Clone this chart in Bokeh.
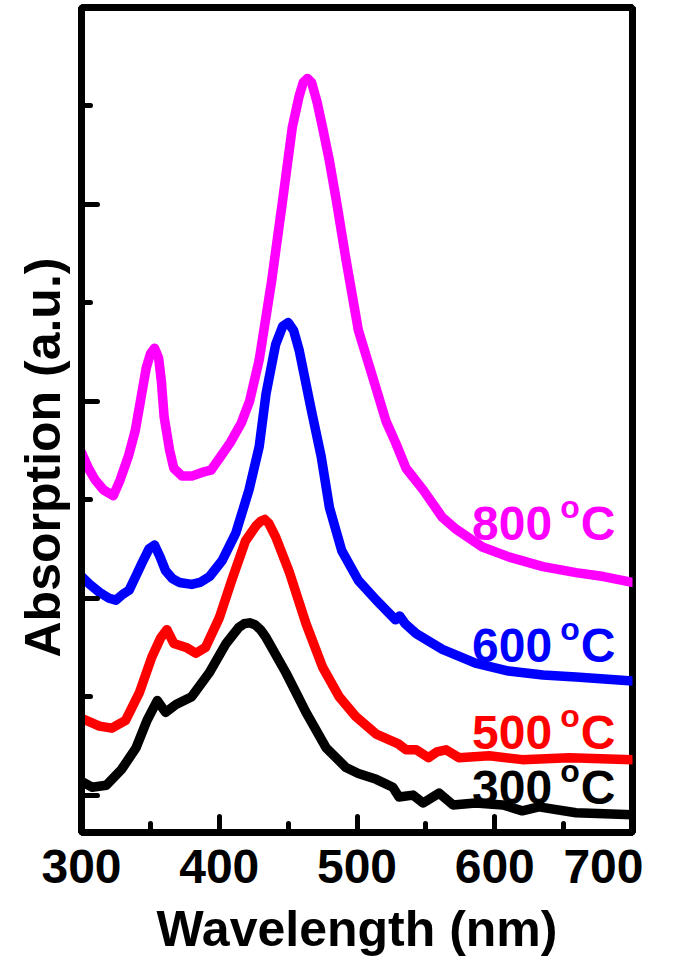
from bokeh.plotting import figure
from bokeh.models import Range1d, SingleIntervalTicker, Label, CustomJSTickFormatter, Title
from bokeh.embed import file_html
from bokeh.resources import INLINE

# ---- data (wavelength in nm, absorption in arbitrary units) ----
wl_800 = [300, 305, 310, 316, 323, 328, 334, 339, 343, 347, 350, 353, 356, 358, 360, 364, 367, 373, 380,
          388, 394, 401, 408, 416, 422, 429, 438, 446, 453, 458, 461, 464, 467, 471, 475, 480, 485, 492,
          501, 511.5, 521, 528, 535.6, 548, 562, 572, 591, 610, 635, 659, 679, 700]
ab_800 = [2.74, 2.66, 2.60, 2.55, 2.52, 2.60, 2.72, 2.85, 3.01, 3.17, 3.24, 3.27, 3.22, 3.10, 2.92, 2.75,
          2.66, 2.62, 2.62, 2.64, 2.65, 2.72, 2.79, 2.89, 3.00, 3.21, 3.61, 4.02, 4.39, 4.55, 4.62, 4.64,
          4.62, 4.52, 4.39, 4.22, 4.02, 3.72, 3.36, 3.12, 2.90, 2.79, 2.66, 2.55, 2.41, 2.35, 2.26, 2.21,
          2.16, 2.13, 2.11, 2.08]

wl_600 = [300, 306, 313, 320, 325, 330, 334.5, 340, 344, 349, 353, 357, 361, 366, 371, 380, 386, 393,
          402, 412, 421.6, 429, 434, 441, 446, 450, 454, 458, 467, 474, 480, 489, 501, 514, 528, 531,
          535, 543, 562, 586, 610, 635, 659, 700]
ab_600 = [2.11, 2.07, 2.03, 2.00, 1.99, 2.02, 2.04, 2.12, 2.18, 2.25, 2.27, 2.21, 2.14, 2.10, 2.08, 2.07,
          2.08, 2.11, 2.19, 2.33, 2.55, 2.77, 3.04, 3.29, 3.38, 3.40, 3.36, 3.26, 2.95, 2.72, 2.46, 2.24,
          2.09, 1.99, 1.89, 1.91, 1.87, 1.82, 1.74, 1.67, 1.63, 1.61, 1.60, 1.58]

wl_500 = [300, 313, 322, 332, 342, 351, 357.6, 362, 367, 376, 383, 390, 400, 409, 419, 427, 430, 433, 436,
          441, 451, 463, 475, 487, 499, 514, 530, 535.6, 543, 552, 558, 564.6, 574, 596, 620, 654, 700]
ab_500 = [1.39, 1.35, 1.34, 1.38, 1.52, 1.70, 1.80, 1.84, 1.77, 1.75, 1.72, 1.75, 1.90, 2.09, 2.29, 2.37,
          2.39, 2.40, 2.38, 2.31, 2.13, 1.87, 1.65, 1.50, 1.40, 1.31, 1.26, 1.23, 1.23, 1.19, 1.22, 1.23,
          1.19, 1.20, 1.18, 1.19, 1.18]

wl_300 = [300, 307.6, 318, 329, 339.6, 347.6, 355, 361, 368.6, 380, 392.6, 405, 414, 418, 422, 426, 430,
          434, 448.5, 463, 477.6, 492, 501, 514, 526, 530.5, 540.6, 548, 559.6, 569.7, 586, 606, 620, 632,
          659, 700]
ab_300 = [1.07, 1.04, 1.05, 1.13, 1.24, 1.38, 1.48, 1.42, 1.46, 1.50, 1.62, 1.77, 1.85, 1.87, 1.875, 1.865,
          1.84, 1.80, 1.62, 1.42, 1.24, 1.14, 1.11, 1.08, 1.04, 0.99, 1.00, 0.96, 1.01, 0.95, 0.96, 0.95,
          0.92, 0.94, 0.91, 0.90]

series = [
    (wl_800, ab_800, "#FF00FF", "800"),
    (wl_600, ab_600, "#0000FF", "600"),
    (wl_500, ab_500, "#FF0000", "500"),
    (wl_300, ab_300, "#000000", "300"),
]

FONT = "Liberation Sans"

p = figure(frame_width=551, frame_height=825, output_backend="svg", toolbar_location=None,
           x_range=Range1d(300, 700), y_range=Range1d(0.81, 5.0),
           min_border_top=7, min_border_left=81, min_border_right=11, min_border_bottom=0)
p.grid.visible = False
p.outline_line_color = "black"
p.outline_line_width = 7
p.background_fill_color = "white"
p.border_fill_color = "white"

for ax in (p.xaxis[0], p.yaxis[0]):
    ax.axis_line_width = 7
    ax.axis_line_color = "black"
    ax.major_tick_in = 16
    ax.major_tick_out = 0
    ax.minor_tick_in = 9
    ax.minor_tick_out = 0
    ax.major_tick_line_width = 5
    ax.minor_tick_line_width = 5
    ax.major_tick_line_cap = "round"
    ax.minor_tick_line_cap = "round"

p.xaxis.ticker = SingleIntervalTicker(interval=100, num_minor_ticks=2)
p.yaxis.ticker = SingleIntervalTicker(interval=1, num_minor_ticks=2)
p.yaxis.formatter = CustomJSTickFormatter(code="return ''")
p.yaxis.major_label_standoff = 0

p.xaxis.major_label_text_font = FONT
p.xaxis.major_label_text_font_style = "bold"
p.xaxis.major_label_text_font_size = "48px"
p.xaxis.major_label_text_color = "black"
p.xaxis.major_label_standoff = 17
p.xaxis.axis_label = "Wavelength (nm)"
p.xaxis.axis_label_text_font = FONT
p.xaxis.axis_label_text_font_style = "bold"
p.xaxis.axis_label_text_font_size = "50px"
p.xaxis.axis_label_text_color = "black"
p.xaxis.axis_label_standoff = 15

# y axis title, placed along the axis like the original
p.add_layout(Title(text="Absorption (a.u.)", align="left", offset=175, standoff=22,
                   text_font=FONT, text_font_style="bold", text_font_size="50px",
                   text_color="black"), "left")

for xs, ys, col, _ in series:
    p.line(xs, ys, line_color=col, line_width=9.5, line_join="round", line_cap="round")

# series labels: number, superscript o, C
label_base = {"800": 2.38, "600": 1.76, "500": 1.32, "300": 1.04}
for _, _, col, name in series:
    b = label_base[name]
    p.add_layout(Label(x=583.5, y=b, text=name, text_align="left", text_baseline="alphabetic",
                       text_font=FONT, text_font_style="bold", text_font_size="48px", text_color=col))
    p.add_layout(Label(x=647.5, y=b + 0.081, text="o", text_align="left", text_baseline="alphabetic",
                       text_font=FONT, text_font_style="bold", text_font_size="32px", text_color=col))
    p.add_layout(Label(x=662.5, y=b, text="C", text_align="left", text_baseline="alphabetic",
                       text_font=FONT, text_font_style="bold", text_font_size="48px", text_color=col))

open("out.html", "w").write(file_html(p, INLINE))
